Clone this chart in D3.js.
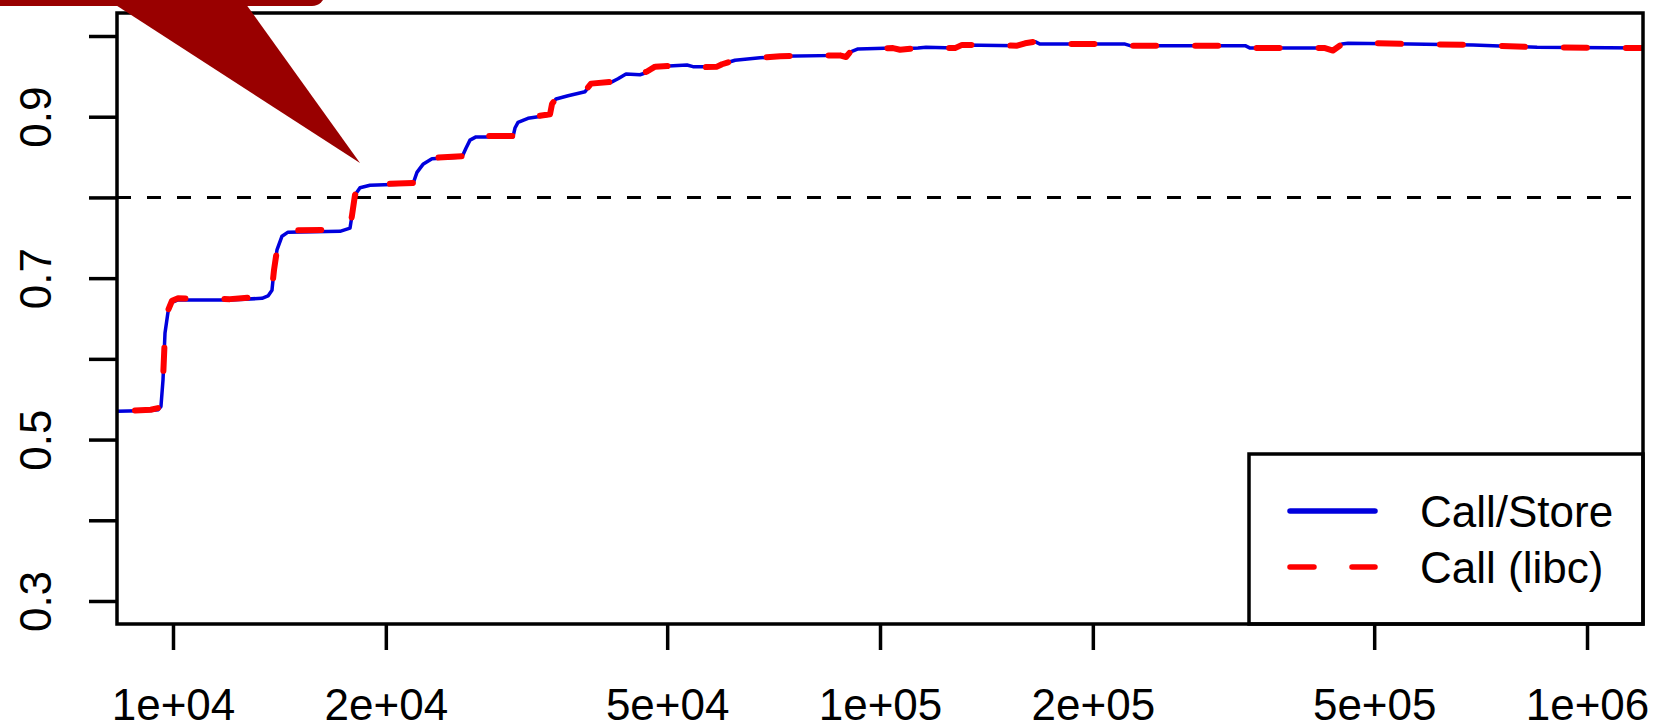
<!DOCTYPE html>
<html>
<head>
    <script src="https://d3js.org/d3.v7.min.js"></script>
</head>

<body style="margin: 0; background-color: white;">

<div id="my_dataviz"></div>

<script>

// values
var storeX = [8333, 9300, 9524, 9616, 9680, 9743, 9839, 9968, 10164, 12038, 13363, 13627, 13804, 13895, 14031, 14262, 14544,
  17226, 17799, 17915, 18089, 18386, 18994, 21851, 22135, 22572, 23243, 25631, 25964, 26306, 26826, 30262, 30458, 30761,
  31776, 34142, 34369, 34815, 36207, 38264, 39020, 41509, 42605, 43728, 45769, 46826, 48068, 53333, 54387, 58818, 59779,
  62366, 67641, 72233, 87792, 89526, 90708, 93097, 104328, 106735, 113170, 116170, 127680, 130620, 156280, 160400, 165700,
  168400, 222100, 225800, 328500, 333800, 426000, 437200, 450200, 459200, 561700, 690000, 850000, 1200000];
var storeY = [0.535, 0.536, 0.537, 0.541, 0.574, 0.632, 0.658, 0.670, 0.673, 0.673, 0.675, 0.678, 0.685, 0.710, 0.735, 0.752, 0.757,
  0.758, 0.762, 0.778, 0.803, 0.812, 0.815, 0.817, 0.831, 0.841, 0.848, 0.850, 0.861, 0.871, 0.875, 0.875, 0.886, 0.893,
  0.898, 0.902, 0.916, 0.922, 0.926, 0.931, 0.941, 0.942, 0.947, 0.953, 0.952, 0.955, 0.962, 0.964, 0.962, 0.962, 0.965,
  0.970, 0.973, 0.975, 0.976, 0.974, 0.980, 0.984, 0.985, 0.984, 0.985, 0.986, 0.985, 0.989, 0.988, 0.991, 0.993,
  0.990, 0.990, 0.988, 0.988, 0.985, 0.985, 0.983, 0.990, 0.991, 0.990, 0.989, 0.986, 0.985];

var libcX = storeX;
var libcY = [0.535, 0.537, 0.539, 0.542, 0.574, 0.632, 0.660, 0.672, 0.675, 0.674, 0.677, 0.679, 0.686, 0.710, 0.735, 0.753, 0.759,
  0.760, 0.763, 0.778, 0.803, 0.812, 0.816, 0.818, 0.831, 0.841, 0.849, 0.851, 0.861, 0.871, 0.876, 0.876, 0.886, 0.894,
  0.899, 0.903, 0.916, 0.922, 0.927, 0.932, 0.941, 0.943, 0.947, 0.953, 0.953, 0.956, 0.962, 0.964, 0.961, 0.962, 0.965,
  0.970, 0.973, 0.975, 0.976, 0.974, 0.980, 0.984, 0.985, 0.983, 0.985, 0.986, 0.985, 0.989, 0.988, 0.991, 0.993,
  0.990, 0.990, 0.988, 0.988, 0.985, 0.985, 0.982, 0.990, 0.992, 0.990, 0.989, 0.986, 0.985];

var xTicks = [1e4, 2e4, 5e4, 1e5, 2e5, 5e5, 1e6];
var xTickLabels = ["1e+04", "2e+04", "5e+04", "1e+05", "2e+05", "5e+05", "1e+06"];
var yTicks = [0.3, 0.4, 0.5, 0.6, 0.7, 0.8, 0.9, 1.0];
var yTickLabels = ["0.3", "", "0.5", "", "0.7", "", "0.9", ""];
var threshold = 0.8;
var seriesNames = ["Call/Store", "Call (libc)"];

// plot box
var margin = {top: 13, right: 17, bottom: 104, left: 117},
    width = 1660 - margin.left - margin.right,
    height = 728 - margin.top - margin.bottom;

var svg = d3.select("#my_dataviz")
  .append("svg")
    .attr("width", 1660)
    .attr("height", 728)
    .style("display", "block")
    .style("font-family", "'Liberation Sans', Arial, Helvetica, sans-serif")
  .append("g")
    .attr("transform", "translate(" + margin.left + "," + margin.top + ")");

var x = d3.scaleLog()
  .domain([8333, 1.2e6])
  .range([0, width]);

var y = d3.scaleLinear()
  .domain([0.2715, 1.0285])
  .range([height, 0]);

svg.append("clipPath").attr("id", "clip")
  .append("rect").attr("width", width).attr("height", height);

// y axis: ticks + rotated labels
var yAxis = svg.append("g")
  .call(d3.axisLeft(y).tickValues(yTicks).tickSize(28).tickFormat(function(d, i) { return yTickLabels[i]; }));
yAxis.select(".domain").remove();
yAxis.selectAll("line").attr("stroke", "black").attr("stroke-width", 3.5);
yAxis.selectAll("text")
  .attr("x", null).attr("dy", null)
  .attr("transform", "translate(-66,0) rotate(-90)")
  .attr("text-anchor", "middle")
  .style("font-size", "44px")
  .attr("fill", "black");

// x axis
var xAxis = svg.append("g")
  .attr("transform", "translate(0," + height + ")")
  .call(d3.axisBottom(x).tickValues(xTicks).tickSize(26).tickFormat(function(d, i) { return xTickLabels[i]; }));
xAxis.select(".domain").remove();
xAxis.selectAll("line").attr("stroke", "black").attr("stroke-width", 3.5);
xAxis.selectAll("text")
  .attr("y", 96).attr("dy", null)
  .style("font-size", "44px")
  .attr("fill", "black");

// threshold line
svg.append("line")
  .attr("x1", 0).attr("x2", width)
  .attr("y1", y(threshold)).attr("y2", y(threshold))
  .attr("stroke", "black")
  .attr("stroke-width", 3)
  .attr("stroke-dasharray", "14,16");

var line = d3.line()
  .x(function(d) { return x(d[0]); })
  .y(function(d) { return y(d[1]); });

var lines = svg.append("g").attr("clip-path", "url(#clip)");

lines.append("path")
  .datum(d3.zip(storeX, storeY))
  .attr("d", line)
  .attr("fill", "none")
  .attr("stroke", "#0000dd")
  .attr("stroke-width", 3.5)
  .attr("stroke-linejoin", "round");

lines.append("path")
  .datum(d3.zip(libcX, libcY))
  .attr("d", line)
  .attr("fill", "none")
  .attr("stroke", "#f00")
  .attr("stroke-width", 6)
  .attr("stroke-linecap", "round")
  .attr("stroke-linejoin", "round")
  .attr("stroke-dasharray", "23,39")
  .attr("stroke-dashoffset", -18);

// legend
var lg = svg.append("g").attr("transform", "translate(" + (1249 - margin.left) + "," + (454 - margin.top) + ")");
lg.append("rect")
  .attr("width", 1643 - 1249).attr("height", 624 - 454)
  .attr("fill", "white").attr("stroke", "black").attr("stroke-width", 3.5);
var legendColors = ["#0000dd", "#f00"];
var legendDash = [null, "24,38"];
seriesNames.forEach(function(name, i) {
  lg.append("line")
    .attr("x1", 41).attr("x2", 126)
    .attr("y1", 57 + i * 56).attr("y2", 57 + i * 56)
    .attr("stroke", legendColors[i])
    .attr("stroke-width", 5.5)
    .attr("stroke-linecap", "round")
    .attr("stroke-dasharray", legendDash[i]);
  lg.append("text")
    .attr("x", 171).attr("y", 73 + i * 56)
    .style("font-size", "44px")
    .text(name);
});

// plot frame
svg.append("rect")
  .attr("width", width).attr("height", height)
  .attr("fill", "none").attr("stroke", "black").attr("stroke-width", 3.5);

// red callout at the top left
var top_ = d3.select("svg").append("g").attr("fill", "#990000");
top_.append("rect").attr("x", -30).attr("y", -40).attr("width", 355).attr("height", 46).attr("rx", 13);
top_.append("path").attr("d", "M108,0 L243,0 L360,163 Z");

</script>
</body>
</html>
